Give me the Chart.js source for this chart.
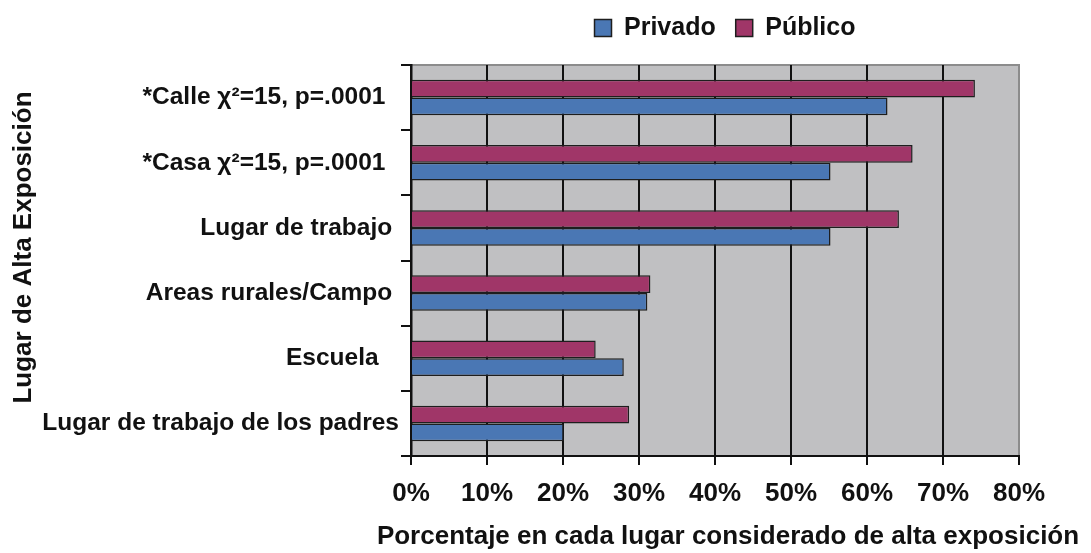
<!DOCTYPE html>
<html>
<head>
<meta charset="utf-8">
<script src="https://cdn.jsdelivr.net/npm/chart.js@4"></script>
<style>
  html, body { margin: 0; padding: 0; background: #fff; }
  canvas { display: block; }
</style>
</head>
<body>
<canvas id="graficoLugares" width="1091" height="553"></canvas>
<script>
// lugares de alta exposicion (de arriba hacia abajo)
const lugares = [
    '*Calle χ²=15, p=.0001  ',
    '*Casa χ²=15, p=.0001  ',
    'Lugar de trabajo ',
    'Areas rurales/Campo ',
    'Escuela   ',
    'Lugar de trabajo de los padres'
];

const privado = [62.7, 55.2, 55.2, 31.1, 28.0, 20.1];
const publico = [74.2, 66.0, 64.2, 31.5, 24.3, 28.7];

const ticksX = [0, 10, 20, 30, 40, 50, 60, 70, 80];

const tituloX = 'Porcentaje en cada lugar considerado de alta exposición';
const tituloY = 'Lugar de Alta Exposición';

const fuente = "'Liberation Sans', Arial, sans-serif";

Chart.defaults.font.family = fuente;
Chart.defaults.font.weight = 'bold';
Chart.defaults.color = '#111';

// fondo gris del area de trazado, legend y titulos de los ejes
const fondoGris = {
    id: 'fondoGris',
    afterLayout(chart) {
        const lg = chart.legend;
        const a = chart.chartArea;
        lg.left = a.left + 10;
        lg.right = a.right + 10;
        lg.top -= 14.5;
        lg.bottom -= 14.5;
    },
    beforeDraw(chart) {
        const { ctx, chartArea: a } = chart;
        ctx.save();
        ctx.fillStyle = '#c0c0c2';
        ctx.fillRect(a.left, a.top, a.right - a.left, a.bottom - a.top);
        ctx.strokeStyle = '#8c8c8c';
        ctx.lineWidth = 2;
        ctx.strokeRect(a.left, a.top, a.right - a.left, a.bottom - a.top);
        ctx.restore();
    },
    afterDraw(chart) {
        // los titulos no van centrados sobre el area, se dibujan aparte
        const { ctx, chartArea: a } = chart;
        ctx.save();
        ctx.font = 'bold 26px ' + fuente;
        ctx.fillStyle = '#111';
        ctx.textAlign = 'center';
        ctx.textBaseline = 'alphabetic';
        ctx.fillText(tituloX, (a.left + a.right) / 2 + 13, a.bottom + 87.5);

        ctx.translate(31, (a.top + a.bottom) / 2 - 13);
        ctx.rotate(-Math.PI / 2);
        ctx.fillText(tituloY, 0, 0);
        ctx.restore();
    }
};

const ctx = document.getElementById('graficoLugares').getContext('2d');

new Chart(ctx, {
    type: 'bar',
    data: {
        labels: lugares,
        datasets: [
            {
                label: 'Público',
                data: publico,
                backgroundColor: '#a03668',
                borderColor: '#1e1e1e',
                borderWidth: 1.5,
                categoryPercentage: 0.545,
                barPercentage: 1
            },
            {
                label: 'Privado',
                data: privado,
                backgroundColor: '#4a77b4',
                borderColor: '#1e1e1e',
                borderWidth: 1.5,
                categoryPercentage: 0.545,
                barPercentage: 1
            }
        ]
    },
    options: {
        responsive: false,
        animation: false,
        indexAxis: 'y',
        layout: {
            padding: { left: 0, right: 72, top: 10, bottom: 0 }
        },
        plugins: {
            legend: {
                position: 'top',
                reverse: true,
                labels: {
                    font: { size: 25, weight: 'bold' },
                    boxWidth: 17,
                    boxHeight: 17,
                    padding: 20,
                    color: '#111'
                }
            },
            tooltip: { enabled: false }
        },
        scales: {
            x: {
                min: 0,
                max: 80,
                afterBuildTicks: s => { s.ticks = ticksX.map(v => ({ value: v })); },
                afterFit: s => { s.height = 97; },
                ticks: {
                    padding: 13,
                    font: { size: 26, weight: 'bold' },
                    callback: v => v + '%'
                },
                grid: {
                    color: c => (c.tick && c.tick.value === 80) ? '#8c8c8c' : '#111',
                    tickColor: '#111',
                    lineWidth: 2,
                    tickLength: 9
                },
                border: { color: '#111', width: 2 },
                title: { display: false }
            },
            y: {
                afterFit: s => { s.width = 411; },
                ticks: {
                    padding: 2,
                    font: { size: 24.5, weight: 'bold' }
                },
                grid: {
                    offset: true,
                    drawOnChartArea: false,
                    color: '#111',
                    lineWidth: 2,
                    tickLength: 10
                },
                border: { color: '#111', width: 2.5 },
                title: { display: false }
            }
        }
    },
    plugins: [fondoGris]
});
</script>
</body>
</html>
